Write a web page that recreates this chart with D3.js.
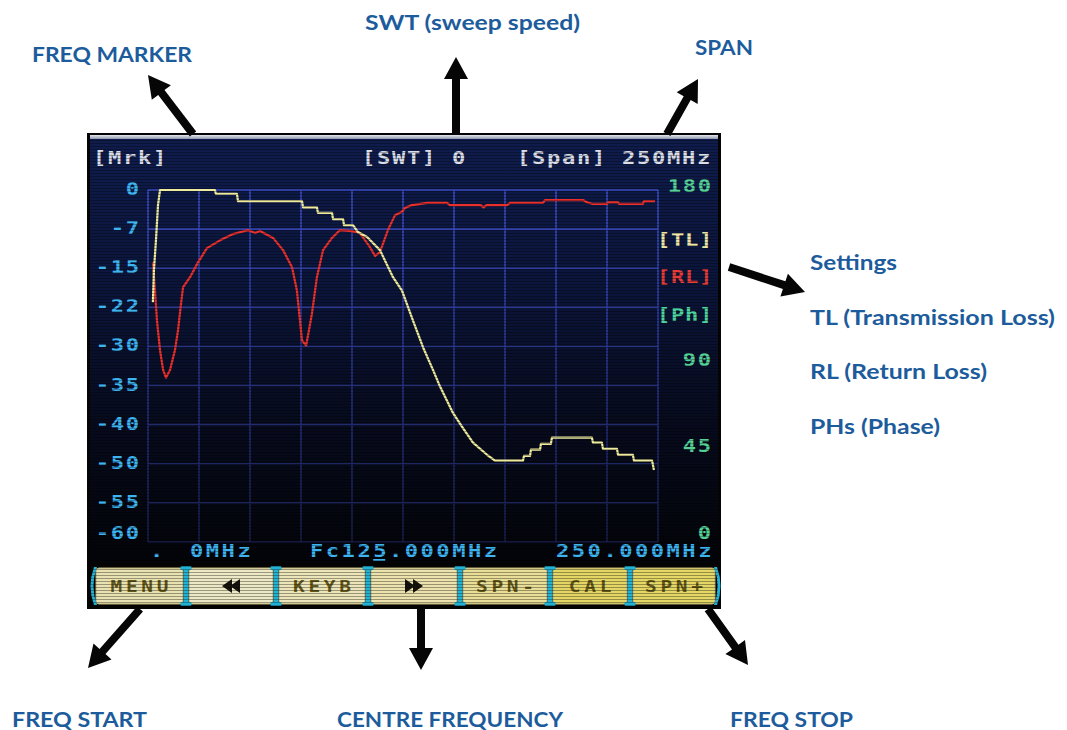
<!DOCTYPE html>
<html>
<head>
<meta charset="utf-8">
<script src="https://cdn.jsdelivr.net/npm/d3@7"></script>
<style>
  html, body { margin: 0; padding: 0; background: #ffffff; }
  svg { display: block; }
  .mono { font-family: "DejaVu Sans Mono", "Liberation Mono", monospace; font-weight: 700; }
  .note { font-family: Lato, "Open Sans", sans-serif; font-weight: 700; fill: #1d5c9c; }
</style>
</head>
<body>
<svg id="chart" width="1067" height="730"></svg>
<script>
// ---- analyser readout data ----
const dbTicks = [0, -7, -15, -22, -30, -35, -40, -50, -55, -60];   // left axis labels (dB)
const phaseTicks = [180, 90, 45, 0];                               // right axis labels (deg)
const spanMHz = [0, 250];
const gridStepMHz = 25;
const headerLabels = ["[Mrk]", "[SWT] 0", "[Span] 250MHz"];
const freqLabels = [".", "0MHz", "Fc125.000MHz", "250.000MHz"];
const traceLegend = ["[TL]", "[RL]", "[Ph]"];
const buttonLabels = ["MENU", "◀◀", "KEYB", "▶▶", "SPN-", "CAL", "SPN+"];

// Transmission loss trace (MHz, dB)
const tlFreq = [2.4, 2.9, 3.9, 4.9, 5.9, 32.8, 33.3, 43.6, 44.1, 75.5, 76.0, 82.8, 83.3, 90.2, 90.7, 95.6,
  96.1, 100.5, 102.9, 107.4, 113.7, 120.1, 124.5, 129.9, 134.8, 139.7, 143.1, 149.5, 153.9, 159.3, 166.2,
  170.1, 183.8, 184.3, 187.3, 187.7, 192.2, 192.6, 197.5, 198.0, 217.6, 218.1, 222.5, 223.0, 229.9, 230.4,
  237.7, 238.2, 247.1, 248.0];
const tlDb = [-21.1, -15.4, -9.3, -2.7, 0, 0, -0.7, -0.7, -2.0, -2.0, -3.1, -3.1, -4.1, -4.1, -5.2, -5.2,
  -6.3, -6.3, -7.6, -8.6, -11.3, -16.6, -19.0, -24.7, -30.1, -33.0, -35.1, -38.5, -40.5, -44.6, -47.7,
  -49.2, -49.2, -48.0, -48.0, -46.4, -46.4, -44.9, -44.9, -43.3, -43.3, -44.6, -44.6, -46.2, -46.2, -47.7,
  -47.7, -49.2, -49.2, -50.8];

// Return loss trace (MHz, dB)
const rlFreq = [2.4, 3.4, 4.4, 5.9, 7.4, 8.8, 10.8, 13.2, 14.7, 16.2, 17.2, 20.6, 24.5, 28.9, 35.3, 41.7,
  49.0, 52.5, 54.9, 61.3, 66.2, 70.6, 73.0, 74.5, 75.5, 77.5, 78.9, 80.4, 82.8, 85.8, 90.2, 94.1, 100.0,
  103.9, 108.8, 111.3, 113.7, 117.6, 121.1, 124.5, 126.0, 129.4, 136.8, 146.6, 148.0, 163.0, 164.5, 166.0,
  176.0, 177.5, 193.6, 194.6, 213.2, 215.2, 218.1, 225.0, 225.5, 230.4, 230.9, 242.6, 243.1, 248.5];
const rlDb = [-13.8, -18.9, -24.7, -30.5, -33.0, -34.0, -33.0, -30.5, -26.7, -21.3, -18.4, -16.6, -13.8,
  -10.9, -9.3, -8.0, -7.2, -7.8, -7.4, -8.8, -11.3, -14.8, -19.0, -24.7, -28.8, -29.8, -26.7, -23.2, -16.6,
  -11.3, -8.8, -7.2, -7.4, -7.8, -10.7, -12.5, -11.7, -7.2, -4.5, -3.9, -3.2, -2.7, -2.3, -2.3, -2.7, -2.7,
  -3.1, -2.7, -2.7, -2.3, -2.3, -1.8, -1.8, -2.2, -2.5, -2.5, -2.2, -2.2, -2.5, -2.5, -2.0, -2.0];

// Callout captions around the screen
const noteTexts = ["FREQ MARKER", "SWT (sweep speed)", "SPAN", "Settings", "TL (Transmission Loss)",
  "RL (Return Loss)", "PHs (Phase)", "FREQ START", "CENTRE FREQUENCY", "FREQ STOP"];

// ---- layout ----
const svg = d3.select("#chart");
const plot = { left: 148, right: 658, top: 190, bottom: 542 };
const screen = { x: 87, y: 133, w: 634, h: 476 };

const x = d3.scaleLinear().domain(spanMHz).range([plot.left, plot.right]);
// The analyser prints uneven dB labels on evenly spaced divisions: piecewise scale
const gridY = dbTicks.map((d, i) => plot.top + i * (plot.bottom - plot.top) / (dbTicks.length - 1));
const y = d3.scaleLinear().domain(dbTicks).range(gridY);
const yPh = d3.scaleLinear().domain([0, 180]).range([533, 186]);

const defs = svg.append("defs");
const bg = defs.append("linearGradient").attr("id", "screenBg")
  .attr("gradientUnits", "userSpaceOnUse").attr("x1", 0).attr("x2", 0).attr("y1", 139).attr("y2", 565);
[[0, "#0f1c4c"], [0.35, "#0b153a"], [0.65, "#070b1e"], [1, "#030408"]]
  .forEach(([o, c]) => bg.append("stop").attr("offset", o).attr("stop-color", c));
const vg = defs.append("linearGradient").attr("id", "vGrid")
  .attr("gradientUnits", "userSpaceOnUse").attr("x1", 0).attr("x2", 0).attr("y1", plot.top).attr("y2", plot.bottom);
[[0, "#3c4cc4"], [0.45, "#2a3694"], [1, "#171d48"]]
  .forEach(([o, c]) => vg.append("stop").attr("offset", o).attr("stop-color", c));
const topLine = defs.append("linearGradient").attr("id", "topLine").attr("x1", 0).attr("x2", 0).attr("y1", 0).attr("y2", 1);
[[0, "#e6e8ee"], [1, "#8f97ad"]].forEach(([o, c]) => topLine.append("stop").attr("offset", o).attr("stop-color", c));
const scan = defs.append("pattern").attr("id", "scan").attr("patternUnits", "userSpaceOnUse")
  .attr("width", 4).attr("height", 3);
scan.append("rect").attr("y", 2).attr("width", 4).attr("height", 1).attr("fill", "#000").attr("opacity", 0.3);
const btnStripe = defs.append("pattern").attr("id", "btnStripe").attr("patternUnits", "userSpaceOnUse")
  .attr("width", 4).attr("height", 3);
btnStripe.append("rect").attr("y", 2).attr("width", 4).attr("height", 1).attr("fill", "#8a8050").attr("opacity", 0.15);

// ---- screen bezel & background ----
svg.append("rect").attr("x", screen.x).attr("y", screen.y).attr("width", screen.w).attr("height", screen.h)
  .attr("fill", "#040404");
svg.append("rect").attr("x", 90).attr("y", 135).attr("width", 628).attr("height", 4).attr("fill", "url(#topLine)");
svg.append("rect").attr("x", 90).attr("y", 139).attr("width", 628).attr("height", 424).attr("fill", "url(#screenBg)");

// ---- grid ----
const grid = svg.append("g");
const hCol = d3.interpolateRgb("#3a4abc", "#181e4c");
grid.selectAll("line.h").data(gridY).join("line").attr("class", "h")
  .attr("x1", plot.left).attr("x2", plot.right).attr("y1", d => d).attr("y2", d => d)
  .attr("stroke", (d, i) => hCol(Math.pow(i / (gridY.length - 1), 0.8))).attr("stroke-width", 1.6);
const vTicks = d3.range(spanMHz[0], spanMHz[1] + 0.001, gridStepMHz);
grid.selectAll("line.v").data(vTicks).join("line").attr("class", "v")
  .attr("x1", d => x(d)).attr("x2", d => x(d)).attr("y1", plot.top).attr("y2", plot.bottom)
  .attr("stroke", "url(#vGrid)").attr("stroke-width", 1.6);

// ---- traces ----
const line = d3.line().x(d => x(d[0])).y(d => y(d[1]));
svg.append("path").datum(d3.zip(rlFreq, rlDb)).attr("d", line)
  .attr("fill", "none").attr("stroke", "#ea302c").attr("stroke-width", 2.2).attr("stroke-linejoin", "round");
svg.append("path").datum(d3.zip(tlFreq, tlDb)).attr("d", line)
  .attr("fill", "none").attr("stroke", "#eeea9e").attr("stroke-width", 2.2).attr("stroke-linejoin", "round");

// ---- monospace readouts (wide pixel-style glyphs: stretched horizontally) ----
const FS = 17, SX = 1.3, PITCH = 15;          // pitch = on-screen advance per character
function mono(txt, xPos, yPos, fill, anchor, opts = {}) {
  const fs = opts.fs || FS, sx = opts.sx || SX, pitch = opts.pitch || PITCH;
  const ls = pitch / sx - fs * 0.602;
  const g = svg.append("g").attr("transform", `translate(${xPos},${yPos}) scale(${sx},1)`);
  const t = g.append("text").attr("class", "mono").attr("x", 0).attr("y", 0)
    .attr("font-size", fs).attr("letter-spacing", ls).attr("fill", fill).text(txt);
  if (anchor === "end") t.attr("text-anchor", "end").attr("x", ls);
  if (anchor === "middle") t.attr("text-anchor", "middle").attr("x", ls / 2);
  return t;
}
const headerX = [93, 362, 517];
headerLabels.forEach((t, i) => mono(t, headerX[i], 164, "#dadee8"));

// left dB axis labels
dbTicks.forEach(v => {
  const yy = Math.min(y(v), plot.bottom - 8) - 1;
  mono(String(v), 139, yy + 6, "#3db4f0", "end");
});
// right phase axis labels
phaseTicks.forEach(v => mono(String(v), 711, yPh(v) + 6, "#55d096", "end"));
// trace legend
const legendCol = ["#ece5a6", "#e63c36", "#4cd49c"];
const legendY = [246, 283, 321];
traceLegend.forEach((t, i) => mono(t, 657, legendY[i], legendCol[i], null, { pitch: 14 }));

// frequency row
const freqX = [150, 190, 310, 556];
freqLabels.forEach((t, i) => mono(t, freqX[i], 557, "#3db4f0", null, { pitch: 15.8 }));
// cursor digit underline under "5" of the centre frequency
svg.append("rect").attr("x", freqX[2] + 4 * 15.8).attr("y", 559).attr("width", 12).attr("height", 2)
  .attr("fill", "#3db4f0");

// ---- soft key row ----
const sepX = [93, 186, 276, 368, 460, 550, 630, 718];
const btnFill = ["#e8e1b2", "#ece7c4", "#ece5ba", "#ece2ae", "#e9de98", "#e4d664", "#e4d766"];
const by0 = 567, by1 = 605;
buttonLabels.forEach((lab, i) => {
  const x0 = sepX[i] + 3, x1 = sepX[i + 1] - 3;
  svg.append("rect").attr("x", x0).attr("y", by0 + 1).attr("width", x1 - x0).attr("height", by1 - by0 - 2)
    .attr("rx", 3).attr("fill", btnFill[i]).attr("stroke", "#b9ae70").attr("stroke-width", 1);
  svg.append("rect").attr("x", x0).attr("y", by0 + 1).attr("width", x1 - x0).attr("height", by1 - by0 - 2)
    .attr("rx", 3).attr("fill", "url(#btnStripe)");
  const cx = (x0 + x1) / 2, cy = (by0 + by1) / 2;
  if (lab === "◀◀" || lab === "▶▶") {
    const dir = lab === "◀◀" ? -1 : 1;   // direction the triangles point
    const g = svg.append("g").attr("transform", `translate(${cx},${cy})`);
    [-4, 4].forEach(off => {
      g.append("path").attr("d", `M${off - 5 * dir},-7 L${off + 5 * dir},0 L${off - 5 * dir},7 Z`)
        .attr("fill", "#14120a");
    });
  } else {
    mono(lab, cx, cy + 6, "#625718", "middle", { fs: 16, sx: 1.22, pitch: 15.5 });
  }
});
// cyan separators (I-beams), rounded brackets at both ends
const sepCol = "#22b2d6";
sepX.forEach((sx, i) => {
  const g = svg.append("g").attr("fill", sepCol);
  if (i === 0 || i === sepX.length - 1) {
    const d = i === 0 ? 1 : -1;
    g.append("path").attr("d",
      `M${sx + 4 * d},${by0} Q${sx - 3 * d},${(by0 + by1) / 2} ${sx + 4 * d},${by1} L${sx + 1 * d},${by1} Q${sx - 6 * d},${(by0 + by1) / 2} ${sx + 1 * d},${by0} Z`);
  } else {
    g.append("rect").attr("x", sx - 2.5).attr("y", by0).attr("width", 5).attr("height", by1 - by0);
    g.append("rect").attr("x", sx - 5.5).attr("y", by0 - 1).attr("width", 11).attr("height", 4).attr("rx", 1);
    g.append("rect").attr("x", sx - 5.5).attr("y", by1 - 3).attr("width", 11).attr("height", 4).attr("rx", 1);
  }
});

// scanline texture over the display
svg.append("rect").attr("x", 90).attr("y", 139).attr("width", 628).attr("height", 468).attr("fill", "url(#scan)")
  .attr("pointer-events", "none");

// ---- callouts ----
const notePos = [[32, 62], [365, 30], [695, 55], [810, 270], [810, 325], [810, 379], [810, 434],
  [12, 727], [337, 727], [730, 727]];
const noteWidth = [160, 215, 58, 87, 245, 177, 130, 135, 226, 123];
noteTexts.forEach((t, i) => {
  svg.append("text").attr("class", "note").attr("x", notePos[i][0]).attr("y", notePos[i][1])
    .attr("font-size", 21).attr("textLength", noteWidth[i]).attr("lengthAdjust", "spacingAndGlyphs").text(t);
});

// arrows: [tail, tip]
const arrows = [
  [[193, 134], [148, 75]],
  [[456, 134], [456, 57]],
  [[667, 134], [698, 79]],
  [[729, 267], [805, 292]],
  [[140, 609], [88, 668]],
  [[421, 608], [421, 670]],
  [[708, 609], [748, 665]]
];
function arrowPath([t, h]) {
  const dx = h[0] - t[0], dy = h[1] - t[1], L = Math.hypot(dx, dy);
  const ux = dx / L, uy = dy / L, px = -uy, py = ux;
  const sw = 4, hw = 12, hl = 22;
  const bx = h[0] - ux * hl, by = h[1] - uy * hl;
  const pts = [
    [t[0] + px * sw, t[1] + py * sw], [bx + px * sw, by + py * sw], [bx + px * hw, by + py * hw],
    h, [bx - px * hw, by - py * hw], [bx - px * sw, by - py * sw], [t[0] - px * sw, t[1] - py * sw]
  ];
  return "M" + pts.map(p => p[0].toFixed(1) + "," + p[1].toFixed(1)).join("L") + "Z";
}
svg.append("g").selectAll("path").data(arrows).join("path").attr("d", arrowPath).attr("fill", "#060606");
</script>
</body>
</html>
